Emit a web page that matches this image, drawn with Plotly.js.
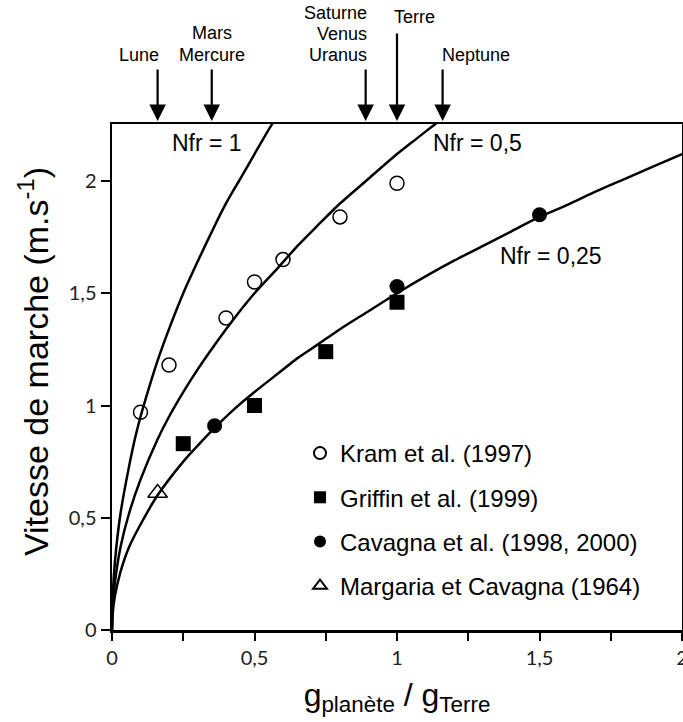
<!DOCTYPE html>
<html>
<head>
<meta charset="utf-8">
<script src="https://cdn.plot.ly/plotly-3.0.1.min.js"></script>
<style>html,body{margin:0;padding:0;background:#fff;}#chart{width:683px;height:722px;}</style>
</head>
<body>
<div id="chart"></div>
<script>
// ---- Data ----
const kramX = [0.1, 0.2, 0.4, 0.5, 0.6, 0.8, 1.0];
const kramY = [0.97, 1.18, 1.39, 1.55, 1.65, 1.84, 1.99];

const griffinX = [0.25, 0.5, 0.75, 1.0];
const griffinY = [0.83, 1.0, 1.24, 1.46];

const cavagnaX = [0.36, 1.0, 1.5];
const cavagnaY = [0.91, 1.53, 1.85];

const margariaX = [0.16];
const margariaY = [0.61];

// curves
const nfr1X = [0, 0.002, 0.01, 0.03, 0.06, 0.08, 0.1, 0.13, 0.16, 0.2, 0.25, 0.3, 0.36, 0.4, 0.45, 0.5, 0.56, 0.62];
const nfr1Y = [0, 0.13, 0.3, 0.52, 0.73, 0.85, 0.95, 1.08, 1.2, 1.34, 1.5, 1.64, 1.8, 1.9, 2.01, 2.12, 2.25, 2.36];

const nfr05X = [0, 0.002, 0.01, 0.03, 0.06, 0.1, 0.16, 0.2, 0.25, 0.3, 0.36, 0.43, 0.5, 0.58, 0.65, 0.72, 0.8, 0.9, 1.0, 1.07, 1.13, 1.2];
const nfr05Y = [0, 0.095, 0.21, 0.37, 0.52, 0.67, 0.85, 0.95, 1.06, 1.16, 1.27, 1.39, 1.5, 1.61, 1.71, 1.8, 1.9, 2.01, 2.12, 2.19, 2.25, 2.32];

const nfr025X = [0, 0.002, 0.01, 0.03, 0.06, 0.1, 0.16, 0.25, 0.3, 0.36, 0.43, 0.5, 0.58, 0.65, 0.72, 0.8, 0.9, 1.0, 1.1, 1.2, 1.3, 1.4, 1.5, 1.6, 1.7, 1.8, 1.9, 2.0];
const nfr025Y = [0, 0.067, 0.15, 0.26, 0.37, 0.47, 0.6, 0.75, 0.82, 0.9, 0.985, 1.06, 1.14, 1.21, 1.27, 1.34, 1.42, 1.5, 1.575, 1.645, 1.71, 1.775, 1.84, 1.895, 1.955, 2.01, 2.065, 2.12];

const curveLabels = ['Nfr = 1', 'Nfr = 0,5', 'Nfr = 0,25'];

const planetG = [0.16, 0.35, 0.89, 1.0, 1.16];
const planetNames = [['Lune'], ['Mars', 'Mercure'], ['Saturne', 'Venus', 'Uranus'], ['Terre'], ['Neptune']];

const xTickVals = [0, 0.5, 1, 1.5, 2];
const xTickText = ['0', '0,5', '1', '1,5', '2'];
const yTickVals = [0, 0.5, 1, 1.5, 2];
const yTickText = ['0', '0,5', '1', '1,5', '2'];

const xTitle = 'g<sub>planète</sub> / g<sub>Terre</sub>';
const yTitle = 'Vitesse de marche (m.s<sup>-1</sup>)';

const legendNames = ['Kram et al. (1997)', 'Griffin et al. (1999)', 'Cavagna et al. (1998, 2000)', 'Margaria et Cavagna (1964)'];

// ---- Layout helpers ----
const PLOT_TOP = 124, PLOT_BOTTOM = 630, PLOT_LEFT = 112, PLOT_RIGHT = 682;
function py2paper(py) { return (PLOT_BOTTOM - py) / (PLOT_BOTTOM - PLOT_TOP); }
function px2paper(px) { return (px - PLOT_LEFT) / (PLOT_RIGHT - PLOT_LEFT); }

const FONT = 'Liberation Sans, Arial, sans-serif';
const TICKFONT = 'Lato, Carlito, sans-serif';

function curve(x, y) {
  return {x: x, y: y, type: 'scatter', mode: 'lines', showlegend: false, hoverinfo: 'skip',
          line: {color: '#000', width: 2.5, shape: 'spline', smoothing: 0.7}};
}

const traces = [
  curve(nfr1X, nfr1Y),
  curve(nfr05X, nfr05Y),
  curve(nfr025X, nfr025Y),
  {x: kramX, y: kramY, type: 'scatter', mode: 'markers', name: legendNames[0], legendgroup: 'a',
   marker: {symbol: 'circle-open', size: 14, color: '#000', line: {width: 1.5, color: '#000'}}},
  {x: griffinX, y: griffinY, type: 'scatter', mode: 'markers', name: legendNames[1], legendgroup: 'b',
   marker: {symbol: 'square', size: 15, color: '#000'}},
  {x: cavagnaX, y: cavagnaY, type: 'scatter', mode: 'markers', name: legendNames[2], legendgroup: 'c',
   marker: {symbol: 'circle', size: 15, color: '#000'}},
  {x: margariaX, y: margariaY, type: 'scatter', mode: 'markers', name: legendNames[3], legendgroup: 'd',
   marker: {symbol: 'triangle-up-open', size: 17, color: '#000', line: {width: 1.5, color: '#000'}}}
];

const annotations = [];
// curve labels
const curveLabelPos = [[0.333, 2.17], [1.284, 2.17], [1.54, 1.666]];
curveLabels.forEach((t, i) => {
  annotations.push({text: t, x: curveLabelPos[i][0], y: curveLabelPos[i][1], xref: 'x', yref: 'y',
    showarrow: false, font: {family: FONT, size: 23, color: '#000'}, xanchor: 'center', yanchor: 'middle'});
});

// planet arrows
const tailY = [68, 68, 68, 32, 68];
planetG.forEach((g, i) => {
  annotations.push({text: '', x: g, xref: 'x', y: py2paper(121), yref: 'paper',
    showarrow: true, ax: 0, ay: -(121 - tailY[i]), arrowhead: 2, arrowsize: 1.5, arrowwidth: 2.2, arrowcolor: '#000'});
});
// planet labels
const labelAnchor = ['right', 'center', 'right', 'left', 'left'];
const labelShift = [3, 0, 3, -5, -3];
const labelRows = [[55], [33, 55], [13, 34, 55], [17], [55]];
planetNames.forEach((names, i) => {
  names.forEach((nm, j) => {
    annotations.push({text: nm, x: planetG[i], xref: 'x', y: py2paper(labelRows[i][j]), yref: 'paper',
      xanchor: labelAnchor[i], xshift: labelShift[i], yanchor: 'middle', showarrow: false,
      font: {family: FONT, size: 18, color: '#000'}});
  });
});

// y axis title (placed as rotated text to match the reference position)
annotations.push({text: yTitle, textangle: -90, xref: 'paper', yref: 'paper',
  x: px2paper(33), y: py2paper(362), xanchor: 'center', yanchor: 'middle', showarrow: false,
  font: {family: FONT, size: 34, color: '#000'}});

const layout = {
  width: 683, height: 722,
  margin: {l: PLOT_LEFT, r: 683 - PLOT_RIGHT, t: PLOT_TOP, b: 722 - PLOT_BOTTOM},
  paper_bgcolor: '#fff', plot_bgcolor: '#fff',
  showlegend: true,
  hovermode: false,
  xaxis: {
    range: [0, 2], tickvals: xTickVals, ticktext: xTickText,
    ticks: 'outside', ticklen: 8, tickwidth: 2, tickcolor: '#000',
    minor: {dtick: 0.25, tick0: 0, ticks: 'outside', ticklen: 8, tickwidth: 2, tickcolor: '#000', showgrid: false},
    showline: true, linewidth: 2.5, linecolor: '#000', mirror: true,
    showgrid: false, zeroline: false,
    ticklabeloverflow: 'allow',
    tickfont: {family: TICKFONT, size: 20, color: '#222'},
    title: {text: xTitle, font: {family: FONT, size: 32, color: '#000'}, standoff: 16},
    automargin: false
  },
  yaxis: {
    range: [0, 2.254], tickvals: yTickVals, ticktext: yTickText,
    ticks: 'outside', ticklen: 9, tickwidth: 2, tickcolor: '#000',
    showline: true, linewidth: 2.5, linecolor: '#000', mirror: true,
    showgrid: false, zeroline: false,
    tickfont: {family: TICKFONT, size: 20, color: '#222'},
    automargin: false
  },
  legend: {
    x: px2paper(300), y: py2paper(431), xanchor: 'left', yanchor: 'top',
    bgcolor: 'rgba(0,0,0,0)', borderwidth: 0,
    font: {family: FONT, size: 24, color: '#000'},
    traceorder: 'grouped', tracegroupgap: 10, itemwidth: 30, itemsizing: 'constant'
  },
  annotations: annotations
};

Plotly.newPlot('chart', traces, layout, {displayModeBar: false, staticPlot: true});
</script>
</body>
</html>
